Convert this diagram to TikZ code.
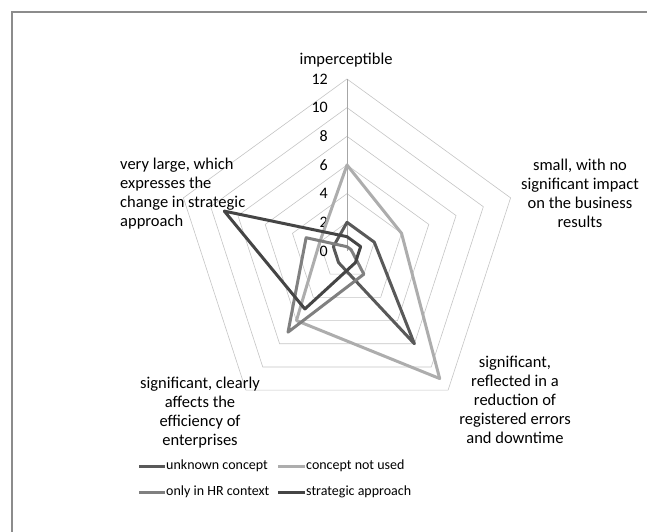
\documentclass[tikz,border=0pt]{standalone}
\usepackage{fontspec}
\setmainfont{Carlito}
\definecolor{gridgray}{HTML}{C4C4C4}
\definecolor{axisgray}{HTML}{A6A6A6}
\definecolor{framegray}{HTML}{8C8C8C}
\definecolor{sUnknown}{HTML}{595959}
\definecolor{sNotUsed}{HTML}{ADADAD}
\definecolor{sHR}{HTML}{808080}
\definecolor{sStrategic}{HTML}{454545}
\begin{document}
\begin{tikzpicture}[x=1pt,y=1pt,
  gridline/.style={draw=gridgray, line width=0.6pt},
  series/.style={line width=3pt, line join=round},
  lbl/.style={font=\fontsize{16.5}{19}\selectfont, align=center, inner sep=0pt},
  tick/.style={font=\fontsize{16}{19}\selectfont, anchor=east, inner sep=0pt},
  legtext/.style={font=\fontsize{14}{17}\selectfont, anchor=west, inner sep=0pt}]
\useasboundingbox (0,0) rectangle (647,531);
% outer frame of the chart area
\draw[framegray, line width=1.5pt] (12,-10) |- (660,519);
% radar grid: pentagon rings every 2 units (14.333pt per unit)
\begin{scope}[shift={(347,280)}]
  \foreach \r in {2,4,...,12}
    \draw[gridline] (90:\r*14.333) -- (18:\r*14.333) -- (-54:\r*14.333)
      -- (-126:\r*14.333) -- (162:\r*14.333) -- cycle;
  \draw[axisgray, line width=0.9pt] (0,0) -- (90:172);
  % value axis labels
  \foreach \v in {0,2,...,12}
    \node[tick] at (-19,\v*14.333) {\v};
  % data series: top, upper right, lower right, lower left, upper left
  \draw[series, sUnknown] (90:2*14.333) -- (18:2*14.333) -- (-54:8*14.333)
    -- (-126:1*14.333) -- (162:1*14.333) -- cycle;
  \draw[series, sNotUsed] (90:6*14.333) -- (18:4*14.333) -- (-54:11*14.333)
    -- (-126:6*14.333) -- (162:2*14.333) -- cycle;
  \draw[series, sHR] (90:0.3*14.333) -- (18:0.3*14.333) -- (-54:2*14.333)
    -- (-126:7*14.333) -- (162:3*14.333) -- cycle;
  \draw[series, sStrategic] (90:1*14.333) -- (18:1*14.333) -- (-54:1*14.333)
    -- (-126:5*14.333) -- (162:9*14.333) -- cycle;
\end{scope}
% category labels
\node[lbl] (catA) at (346,471) {imperceptible};
\node[lbl] (catB) at (580,338) {small, with no\\significant impact\\on the business\\results};
\node[lbl] (catC) at (515,131) {significant,\\reflected in a\\reduction of\\registered errors\\and downtime};
\node[lbl] (catD) at (200,118) {significant, clearly\\affects the\\efficiency of\\enterprises};
\node[lbl, align=left, anchor=west] (catE) at (120,337) {very large, which\\expresses the\\change in strategic\\approach};
% legend
\draw[sUnknown, line width=3pt] (139,65) -- (165,65);
\node[legtext] (legA) at (166,65) {unknown concept};
\draw[sNotUsed, line width=3pt] (278,65) -- (305,65);
\node[legtext] (legB) at (306,65) {concept not used};
\draw[sHR, line width=3pt] (139,39) -- (165,39);
\node[legtext] (legC) at (166,39) {only in HR context};
\draw[sStrategic, line width=3pt] (278,39) -- (305,39);
\node[legtext] (legD) at (306,39) {strategic approach};
\end{tikzpicture}
\end{document}
